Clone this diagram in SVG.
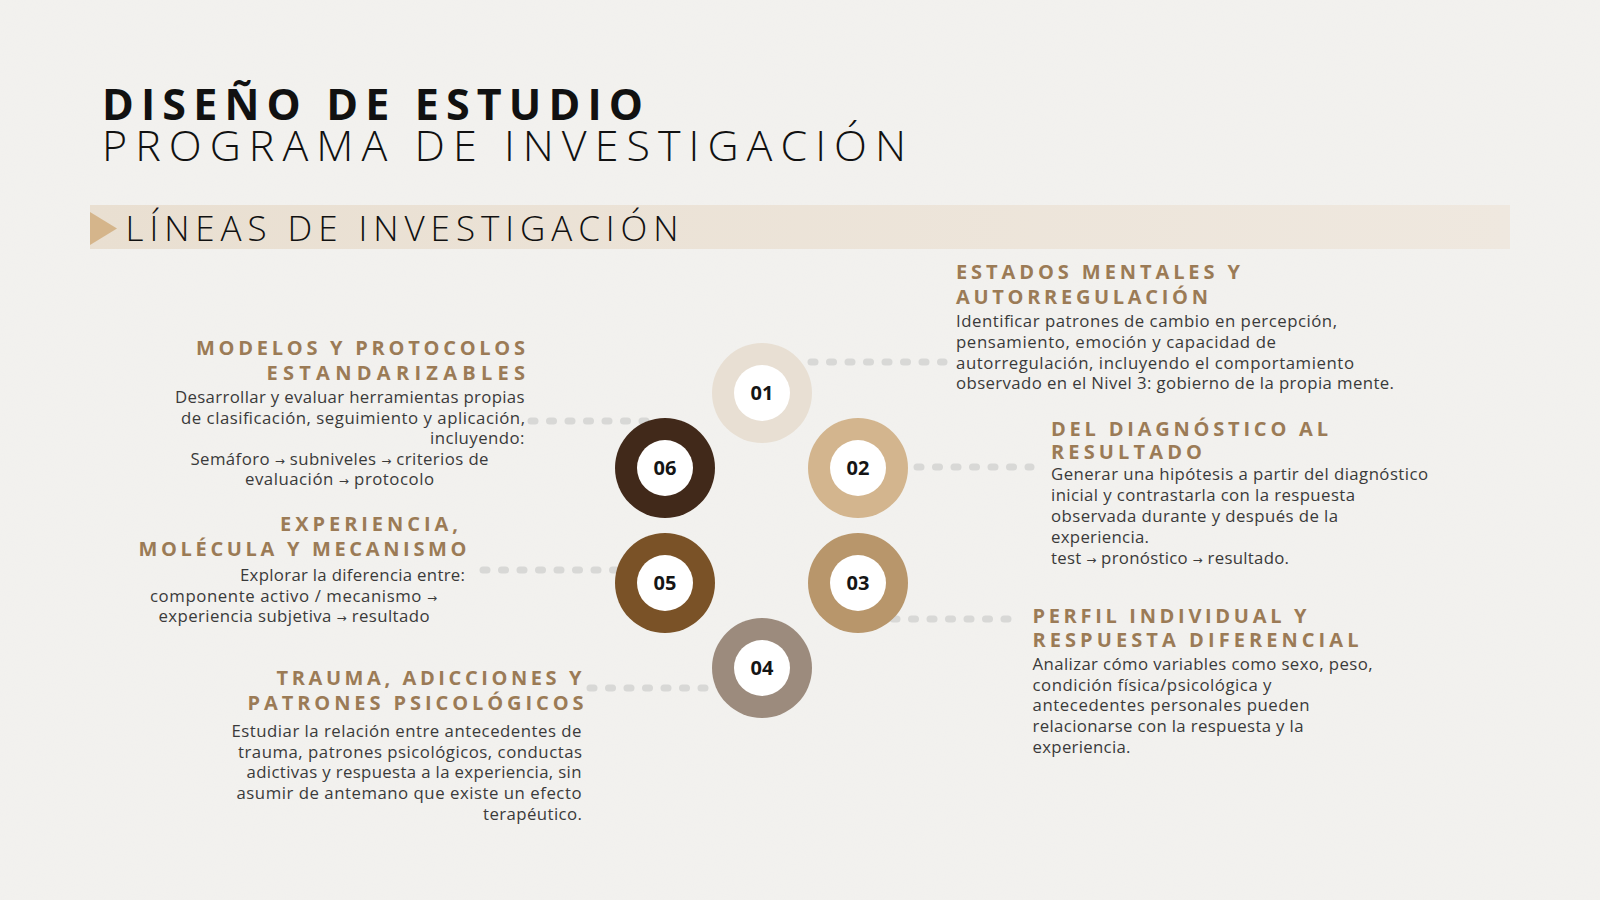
<svg xmlns="http://www.w3.org/2000/svg" width="1600" height="900" viewBox="0 0 1600 900">
  <defs>
    <linearGradient id="band" x1="0" y1="0" x2="1" y2="0">
      <stop offset="0" stop-color="#e9dfd1"/>
      <stop offset="1" stop-color="#efe8df"/>
    </linearGradient>
    <filter id="paper" x="0" y="0" width="100%" height="100%">
      <feTurbulence type="fractalNoise" baseFrequency="0.9" numOctaves="2" seed="3" result="n"/>
      <feColorMatrix type="matrix" values="0 0 0 0 0.5  0 0 0 0 0.5  0 0 0 0 0.5  0 0 0 0.05 0" in="n" result="g"/>
      <feComposite in="g" in2="SourceGraphic" operator="over"/>
    </filter>
    <style>
      .title { font-family: "Open Sans", "Liberation Sans", sans-serif; fill: #111111; }
      .head { font-family: "Open Sans", "Liberation Sans", sans-serif; font-weight: 700; font-size: 20px; fill: #9b7b56; }
      .body { font-family: "Open Sans", "Liberation Sans", sans-serif; font-size: 16.8px; fill: #3a3a3a; }
      .arr { font-family: "DejaVu Sans", sans-serif; font-size: 12px; }
      .num { font-family: "Open Sans", "Liberation Sans", sans-serif; font-weight: 700; font-size: 20px; fill: #151515; text-anchor: middle; }
      .hole { fill: #ffffff; }
      .dots { stroke: #d8d8d6; stroke-width: 7; stroke-linecap: round; stroke-dasharray: 4 14.5; fill: none; }
    </style>
  </defs>

  <rect width="1600" height="900" fill="#f3f2ef"/>
  <rect width="1600" height="900" fill="#f3f2ef" filter="url(#paper)"/>

  <g id="header">
    <text class="title" x="102" y="119.5" font-size="43" font-weight="700" textLength="541" lengthAdjust="spacing">DISEÑO DE ESTUDIO</text>
    <text class="title" x="102" y="161" font-size="43" font-weight="300" textLength="804" lengthAdjust="spacing">PROGRAMA DE INVESTIGACIÓN</text>
  </g>

  <g id="banner">
    <rect x="90" y="205" width="1420" height="44" fill="url(#band)"/>
    <polygon points="90,212 117,228.5 90,245" fill="#d5b58b"/>
    <text class="title" x="125.5" y="241" font-size="35" font-weight="300" textLength="553" lengthAdjust="spacing">LÍNEAS DE INVESTIGACIÓN</text>
  </g>

  <g id="connectors">
    <line class="dots" x1="811" y1="362" x2="944" y2="362"/>
    <line class="dots" x1="531" y1="421" x2="650" y2="421"/>
    <line class="dots" x1="917" y1="467" x2="1031" y2="467"/>
    <line class="dots" x1="893" y1="619" x2="1015" y2="619"/>
    <line class="dots" x1="483" y1="570" x2="616" y2="570"/>
    <line class="dots" x1="590" y1="688" x2="716" y2="688"/>
  </g>

  <g id="node-01">
    <circle cx="762" cy="393" r="50" fill="#e8dfd3"/>
    <circle class="hole" cx="762" cy="393" r="28"/>
    <text class="num" x="762" y="400">01</text>
    <text class="head" x="956" y="279" textLength="284" lengthAdjust="spacing">ESTADOS MENTALES Y</text>
    <text class="head" x="956" y="303.5" textLength="252" lengthAdjust="spacing">AUTORREGULACIÓN</text>
    <text class="body" x="956" y="327" textLength="381" lengthAdjust="spacing">Identificar patrones de cambio en percepción,</text>
    <text class="body" x="956" y="348" textLength="320" lengthAdjust="spacing">pensamiento, emoción y capacidad de</text>
    <text class="body" x="956" y="368.5" textLength="398" lengthAdjust="spacing">autorregulación, incluyendo el comportamiento</text>
    <text class="body" x="956" y="389" textLength="438" lengthAdjust="spacing">observado en el Nivel 3: gobierno de la propia mente.</text>
  </g>

  <g id="node-02">
    <circle cx="858" cy="468" r="50" fill="#d3b58e"/>
    <circle class="hole" cx="858" cy="468" r="28"/>
    <text class="num" x="858" y="475">02</text>
    <text class="head" x="1051" y="435.5" textLength="277" lengthAdjust="spacing">DEL DIAGNÓSTICO AL</text>
    <text class="head" x="1051" y="459" textLength="151" lengthAdjust="spacing">RESULTADO</text>
    <text class="body" x="1051" y="480" textLength="377" lengthAdjust="spacing">Generar una hipótesis a partir del diagnóstico</text>
    <text class="body" x="1051" y="501" textLength="304" lengthAdjust="spacing">inicial y contrastarla con la respuesta</text>
    <text class="body" x="1051" y="522" textLength="287" lengthAdjust="spacing">observada durante y después de la</text>
    <text class="body" x="1051" y="543" textLength="98" lengthAdjust="spacing">experiencia.</text>
    <text class="body" x="1051" y="563.5" textLength="238" lengthAdjust="spacing">test <tspan class="arr">→</tspan> pronóstico <tspan class="arr">→</tspan> resultado.</text>
  </g>

  <g id="node-03">
    <circle cx="858" cy="583" r="50" fill="#b8966b"/>
    <circle class="hole" cx="858" cy="583" r="28"/>
    <text class="num" x="858" y="590">03</text>
    <text class="head" x="1032.5" y="622.5" textLength="274" lengthAdjust="spacing">PERFIL INDIVIDUAL Y</text>
    <text class="head" x="1032.5" y="646.5" textLength="326" lengthAdjust="spacing">RESPUESTA DIFERENCIAL</text>
    <text class="body" x="1032.5" y="669.5" textLength="340" lengthAdjust="spacing">Analizar cómo variables como sexo, peso,</text>
    <text class="body" x="1032.5" y="690.5" textLength="239" lengthAdjust="spacing">condición física/psicológica y</text>
    <text class="body" x="1032.5" y="711" textLength="277" lengthAdjust="spacing">antecedentes personales pueden</text>
    <text class="body" x="1032.5" y="732" textLength="271" lengthAdjust="spacing">relacionarse con la respuesta y la</text>
    <text class="body" x="1032.5" y="752.5" textLength="98" lengthAdjust="spacing">experiencia.</text>
  </g>

  <g id="node-04">
    <circle cx="762" cy="668" r="50" fill="#9c8b7d"/>
    <circle class="hole" cx="762" cy="668" r="28"/>
    <text class="num" x="762" y="675">04</text>
    <text class="head" x="276.5" y="684.5" textLength="305" lengthAdjust="spacing">TRAUMA, ADICCIONES Y</text>
    <text class="head" x="247.5" y="710" textLength="336" lengthAdjust="spacing">PATRONES PSICOLÓGICOS</text>
    <text class="body" x="231.5" y="736.5" textLength="350" lengthAdjust="spacing">Estudiar la relación entre antecedentes de</text>
    <text class="body" x="238" y="757.5" textLength="344" lengthAdjust="spacing">trauma, patrones psicológicos, conductas</text>
    <text class="body" x="246.5" y="778" textLength="335" lengthAdjust="spacing">adictivas y respuesta a la experiencia, sin</text>
    <text class="body" x="236.5" y="798.5" textLength="345" lengthAdjust="spacing">asumir de antemano que existe un efecto</text>
    <text class="body" x="483" y="819.5" textLength="99" lengthAdjust="spacing">terapéutico.</text>
  </g>

  <g id="node-05">
    <circle cx="665" cy="583" r="50" fill="#7a5227"/>
    <circle class="hole" cx="665" cy="583" r="28"/>
    <text class="num" x="665" y="590">05</text>
    <text class="head" x="280" y="531" textLength="178" lengthAdjust="spacing">EXPERIENCIA,</text>
    <text class="head" x="138.5" y="555.5" textLength="328" lengthAdjust="spacing">MOLÉCULA Y MECANISMO</text>
    <text class="body" x="240" y="580.5" textLength="225" lengthAdjust="spacing">Explorar la diferencia entre:</text>
    <text class="body" x="150" y="601.5" textLength="287" lengthAdjust="spacing">componente activo / mecanismo <tspan class="arr">→</tspan></text>
    <text class="body" x="158.5" y="621.5" textLength="271" lengthAdjust="spacing">experiencia subjetiva <tspan class="arr">→</tspan> resultado</text>
  </g>

  <g id="node-06">
    <circle cx="665" cy="468" r="50" fill="#41291a"/>
    <circle class="hole" cx="665" cy="468" r="28"/>
    <text class="num" x="665" y="475">06</text>
    <text class="head" x="196" y="355" textLength="329" lengthAdjust="spacing">MODELOS Y PROTOCOLOS</text>
    <text class="head" x="266.5" y="380" textLength="258.5" lengthAdjust="spacing">ESTANDARIZABLES</text>
    <text class="body" x="175" y="402.5" textLength="349.5" lengthAdjust="spacing">Desarrollar y evaluar herramientas propias</text>
    <text class="body" x="181" y="423.5" textLength="344" lengthAdjust="spacing">de clasificación, seguimiento y aplicación,</text>
    <text class="body" x="430" y="444" textLength="94.5" lengthAdjust="spacing">incluyendo:</text>
    <text class="body" x="190.5" y="464.5" textLength="298" lengthAdjust="spacing">Semáforo <tspan class="arr">→</tspan> subniveles <tspan class="arr">→</tspan> criterios de</text>
    <text class="body" x="245" y="484.5" textLength="189" lengthAdjust="spacing">evaluación <tspan class="arr">→</tspan> protocolo</text>
  </g>
</svg>
